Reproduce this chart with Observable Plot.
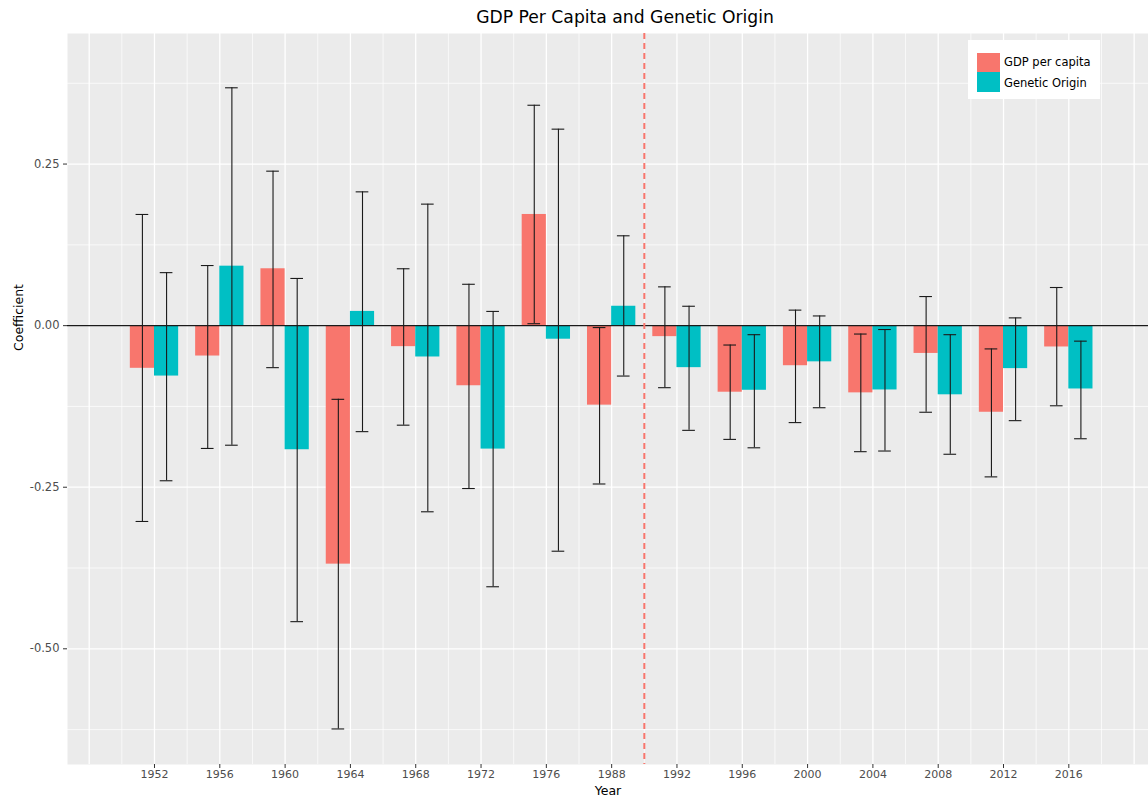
<!DOCTYPE html>
<html>
<head>
<meta charset="utf-8">
<script src="https://cdn.jsdelivr.net/npm/d3@7"></script>
<script src="https://cdn.jsdelivr.net/npm/@observablehq/plot@0.6"></script>
<style>
  body { margin: 0; background: #fff; font-family: "DejaVu Sans", sans-serif; }
  #wrap { position: relative; width: 1148px; height: 798px; overflow: hidden; }
  #title { position: absolute; top: 7px; left: 625px; transform: translateX(-50%); white-space: nowrap;
           font-size: 17.2px; color: #000; line-height: 20px; }
  #chart { position: absolute; left: 0; top: 32px; }
  #legend { position: absolute; left: 968px; top: 40px; width: 132px; height: 59px; background: #fff; }
  .key { position: absolute; left: 9px; width: 22.6px; height: 19.4px; }
  .lab { position: absolute; left: 36px; font-size: 11.5px; color: #000; line-height: 14px; white-space: nowrap; }
</style>
</head>
<body>
<div id="wrap">
  <div id="title">GDP Per Capita and Genetic Origin</div>
  <div id="chart"></div>
  <div id="legend">
    <div class="key" style="top:12.7px;background:#F8766D"></div>
    <div class="lab" style="top:15px">GDP per capita</div>
    <div class="key" style="top:32.3px;background:#00BFC4"></div>
    <div class="lab" style="top:36px">Genetic Origin</div>
  </div>
</div>
<script>
// ---- data ----
const years = [1952, 1956, 1960, 1964, 1968, 1972, 1976, 1988, 1992, 1996, 2000, 2004, 2008, 2012, 2016];
const gdp    = [-0.066, -0.047, 0.088, -0.369, -0.0325, -0.093, 0.172, -0.123, -0.017, -0.103, -0.062, -0.104, -0.043, -0.134, -0.033];
const gdpLo  = [-0.303, -0.190, -0.065, -0.624, -0.154, -0.252, 0.003, -0.245, -0.096, -0.176, -0.150, -0.195, -0.134, -0.234, -0.124];
const gdpHi  = [0.172, 0.093, 0.239, -0.114, 0.088, 0.064, 0.341, -0.003, 0.060, -0.030, 0.024, -0.013, 0.045, -0.036, 0.059];
const gen    = [-0.078, 0.092, -0.192, 0.022, -0.0485, -0.191, -0.021, 0.030, -0.065, -0.100, -0.056, -0.0995, -0.107, -0.0665, -0.098];
const genLo  = [-0.240, -0.185, -0.458, -0.164, -0.288, -0.404, -0.349, -0.078, -0.162, -0.189, -0.127, -0.194, -0.199, -0.147, -0.175];
const genHi  = [0.082, 0.368, 0.073, 0.207, 0.188, 0.022, 0.304, 0.139, 0.030, -0.014, 0.015, -0.006, -0.014, 0.012, -0.024];
const seriesNames = ["GDP per capita", "Genetic Origin"];
const seriesColors = ["#F8766D", "#00BFC4"];
const yTicks = [-0.5, -0.25, 0, 0.25];
const breakYear = 8.5; // between 1988 and 1992 (category positions)

// ---- build table ----
const rows = [];
years.forEach((yr, k) => {
  const i = k + 1;
  rows.push({i, year: yr, s: 0, v: gdp[k], lo: gdpLo[k], hi: gdpHi[k]});
  rows.push({i, year: yr, s: 1, v: gen[k], lo: genLo[k], hi: genHi[k]});
});
const bw = 0.37, cap = 0.097;
const idx = years.map((_, k) => k + 1);
const majorX = d3.range(0, 17);
const minorX = d3.range(0.5, 16.5, 1);
const minorY = [-0.625, -0.375, -0.125, 0.125, 0.375];
const cx = d => d.s === 0 ? d.i - 0.185 : d.i + 0.185;

const chart = Plot.plot({
  width: 1148,
  height: 766,
  marginLeft: 67,
  marginRight: 0,
  marginTop: 1,
  marginBottom: 34,
  style: {fontFamily: "'DejaVu Sans', sans-serif", color: "#4D4D4D", background: "transparent", overflow: "visible"},
  x: {type: "linear", domain: [-0.332, 16.22], axis: null},
  y: {domain: [-0.679, 0.452], axis: null},
  marks: [
    Plot.frame({fill: "#EBEBEB", stroke: "none"}),
    Plot.ruleX(minorX, {x: d => d, stroke: "#fff", strokeWidth: 0.7}),
    Plot.ruleY(minorY, {y: d => d, stroke: "#fff", strokeWidth: 0.7}),
    Plot.ruleX(majorX, {x: d => d, stroke: "#fff", strokeWidth: 1.3}),
    Plot.ruleY(yTicks, {y: d => d, stroke: "#fff", strokeWidth: 1.3}),
    Plot.rectY(rows, {
      x1: d => d.s === 0 ? d.i - bw : d.i,
      x2: d => d.s === 0 ? d.i : d.i + bw,
      y1: 0, y2: "v",
      fill: d => seriesColors[d.s]
    }),
    Plot.ruleY([0], {stroke: "#1a1a1a", strokeWidth: 1.1}),
    Plot.ruleX(rows, {x: cx, y1: "lo", y2: "hi", stroke: "#1a1a1a", strokeWidth: 1.1}),
    Plot.ruleY(rows, {y: "lo", x1: d => cx(d) - cap, x2: d => cx(d) + cap, stroke: "#1a1a1a", strokeWidth: 1.1}),
    Plot.ruleY(rows, {y: "hi", x1: d => cx(d) - cap, x2: d => cx(d) + cap, stroke: "#1a1a1a", strokeWidth: 1.1}),
    Plot.ruleX([breakYear], {x: d => d, stroke: "#F8766D", strokeWidth: 2, strokeDasharray: "6,4"}),
    Plot.axisX(idx, {x: d => d, tickFormat: d => String(years[d - 1]), tickSize: 4, tickPadding: 2, fontSize: 11, stroke: "#333", label: null}),
    Plot.axisY(yTicks, {y: d => d, tickFormat: d => d.toFixed(2), tickSize: 4, tickPadding: 4, fontSize: 11.5, stroke: "#333", label: null}),
    Plot.text(["Year"], {frameAnchor: "bottom", dy: 26.5, fill: "#000", fontSize: 12.5, lineAnchor: "middle", text: d => d}),
    Plot.text(["Coefficient"], {frameAnchor: "left", dx: -49, dy: -48, rotate: -90, fill: "#000", fontSize: 12.5, text: d => d})
  ]
});
document.getElementById("chart").appendChild(chart);
</script>
</body>
</html>
